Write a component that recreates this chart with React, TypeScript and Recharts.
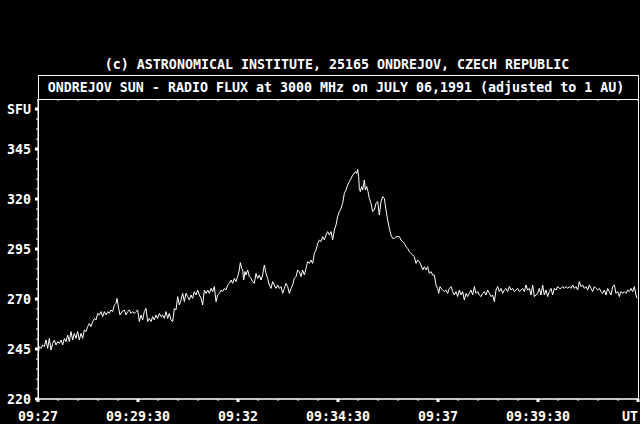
import { Line, LineChart, XAxis, YAxis } from "recharts"

const caption = "(c) ASTRONOMICAL INSTITUTE, 25165 ONDREJOV, CZECH REPUBLIC"
const title = "ONDREJOV SUN - RADIO FLUX at 3000 MHz on JULY 06,1991 (adjusted to 1 AU)"

// seconds after 09:27:00 UT
const xTicks = [0, 150, 300, 450, 600, 750, 900]
const xTickLabels = ["09:27", "09:29:30", "09:32", "09:34:30", "09:37", "09:39:30", "UT"]
const yTicks = [220, 245, 270, 295, 320, 345]
const yUnit = "SFU"

const seconds = [
  0, 2, 4.5, 7, 9.5, 12, 14.5, 17, 19.5, 22, 24.5, 27, 29.5, 32, 34.5, 37, 39.5, 42, 44.5, 47,
  49.5, 52, 54.5, 57, 59.5, 62, 64.5, 67, 69.5, 72, 74.5, 77, 79.5, 82, 84.5, 87, 89.5, 92, 94.5, 97,
  99.5, 102, 104.5, 107, 109.5, 112, 114.5, 117, 118.5, 121, 123, 126, 129.5, 132, 134.5, 137, 139.5, 142, 144.5, 147,
  149.5, 152, 154.5, 157, 159.5, 162, 164.5, 167, 169.5, 172, 174.5, 177, 179.5, 182, 184.5, 187, 189.5, 192, 194.5, 197,
  199.5, 202, 204.5, 207, 209.5, 212, 214.5, 217, 219.5, 222, 224.5, 227, 229.5, 232, 234.5, 237, 239.5, 242, 244.5, 247,
  249.5, 252, 254.5, 257, 259.5, 262, 264.5, 267, 269.5, 272, 274.5, 277, 279.5, 282, 284.5, 287, 289.5, 292, 294.5, 297,
  299.5, 302, 303.5, 305.5, 307, 308.5, 310.5, 312, 314.5, 317, 319.5, 322, 324.5, 327, 329.5, 332, 334.5, 337, 339.5, 342,
  344.5, 347, 349.5, 352, 354.5, 357, 359.5, 362, 364.5, 367, 369.5, 372, 374.5, 377, 379.5, 382, 384.5, 387, 389.5, 392,
  394.5, 397, 399.5, 402, 404.5, 407, 409.5, 412, 414.5, 417, 419.5, 422, 424.5, 427, 429.5, 432, 434.5, 437, 439.5, 442,
  444.5, 447, 449.5, 452, 454.5, 457, 459.5, 462, 464.5, 467, 469.5, 472, 474.5, 476, 478, 479.5, 481, 482, 483.5, 485.5,
  487, 489.5, 491, 493, 495, 497, 499.5, 502, 504.5, 507, 509.5, 512, 514.5, 517, 519.5, 522, 524.5, 527, 529.5, 532,
  534.5, 537, 539.5, 542, 544.5, 547, 549.5, 552, 554.5, 557, 559.5, 562, 564.5, 567, 569.5, 572, 574.5, 577, 579.5, 582,
  584.5, 587, 589.5, 592, 594.5, 597, 599.5, 601, 603, 604.5, 607, 609.5, 612, 614.5, 617, 619.5, 622, 624.5, 627, 629.5,
  632, 634.5, 637, 639.5, 642, 644.5, 647, 649.5, 652, 654.5, 657, 659.5, 662, 664.5, 667, 669.5, 672, 674.5, 677, 679.5,
  682, 684.5, 687, 689.5, 692, 694.5, 697, 699.5, 702, 704.5, 707, 709.5, 712, 714.5, 717, 719.5, 722, 724.5, 727, 729.5,
  732, 734.5, 737, 739.5, 742, 744.5, 749.5, 752, 754.5, 757, 759.5, 762, 764.5, 767, 769.5, 772, 774.5, 777, 779.5, 782,
  784.5, 787, 789.5, 792, 794.5, 797, 799.5, 802, 804.5, 807, 809.5, 812, 814.5, 817, 819.5, 822, 824.5, 827, 829.5, 832,
  834.5, 837, 839.5, 842, 844.5, 847, 849.5, 852, 854.5, 857, 859.5, 862, 864.5, 867, 869.5, 872, 874.5, 877, 879.5, 882,
  884.5, 887, 889.5, 892, 894.5, 897, 898.5,
]

const sfu = [
  241.5, 246.2, 245.3, 247, 246.2, 249.5, 245.3, 250.3, 244.5, 247.8, 249.5, 247, 248.7, 247.8, 249.5, 247, 250.3, 248.7, 252, 248.7,
  253.7, 249.5, 252.8, 250.3, 253.7, 249.5, 252.8, 250.3, 254.5, 253.7, 256.2, 257.8, 256.2, 258.7, 260.3, 259.5, 262.8, 262, 263.7, 261.2,
  263.7, 262, 263.7, 262.8, 264.5, 263.7, 267, 267.8, 270.3, 265.3, 262, 263.7, 264.5, 262, 263.7, 264.5, 262.8, 263.7, 262.8, 263.7,
  264.5, 258.7, 262, 259.5, 263.7, 265.3, 258.7, 260.3, 258.7, 261.2, 259.5, 262, 260.3, 262.8, 261.2, 262, 260.3, 263.7, 260.3, 262.8,
  259.5, 258.7, 265.3, 264.5, 271.2, 267, 269.5, 272.8, 268.7, 272.8, 271.2, 269.5, 272, 270.3, 273.7, 272, 274.5, 272, 270.3, 267,
  274.5, 272.8, 274.5, 272.8, 275.3, 273.7, 276.2, 268.7, 272, 272.8, 274.5, 273.7, 275.3, 274.5, 277, 277.8, 279.5, 277.8, 280.3, 278.7,
  281.2, 284.5, 288.2, 285.3, 284.5, 279.5, 283.7, 282, 284.5, 281.2, 280.3, 278.7, 277.8, 282.8, 280.3, 282, 279.5, 282, 287, 282.8,
  280.3, 277, 275.3, 278.7, 277, 275.3, 277, 275.3, 276.2, 272.8, 275.3, 277.8, 276.2, 272.8, 275.3, 277, 280.3, 281.2, 284.5, 283.7,
  281.2, 284.5, 282, 285.3, 288.7, 287.8, 289.5, 287.8, 292.8, 294.5, 297.8, 299.5, 298.7, 301.2, 299.5, 302, 303.7, 302, 303.7, 299.5,
  304.5, 307, 311.2, 313.7, 315.3, 317.8, 322.8, 324.5, 327, 328.7, 330.3, 332, 332.8, 333.7, 332.8, 334.8, 331.2, 325.3, 323.7, 326.2,
  324.5, 329.5, 324.5, 326.2, 323.7, 320.3, 317.8, 313.7, 314.5, 317.8, 318.7, 312, 318.7, 321.2, 320.3, 314.5, 309.5, 305.3, 302, 300.3,
  300.3, 301.2, 301.2, 301.2, 299.5, 298.7, 297.8, 296.2, 295.3, 293.7, 292.8, 292, 291.2, 287.8, 289.5, 288.7, 287, 284.5, 286.2, 284.5,
  286.2, 282.8, 283.7, 282, 282, 277, 275.3, 272.8, 276.2, 275.3, 274.5, 273.7, 274.5, 272.8, 275.3, 276.2, 273.7, 272, 273.7, 271.2,
  274.5, 272, 273.7, 269.5, 272.8, 271.2, 272.8, 274.5, 272, 276.2, 272.8, 273.7, 272, 271.2, 272.8, 273.7, 272, 274.5, 272.8, 271.2,
  272, 268.7, 274.5, 276.2, 273.7, 275.3, 272.8, 274.5, 275.3, 273.7, 276.2, 274.5, 275.3, 273.7, 274.5, 275.3, 273.7, 274.5, 275.3, 273.7,
  277, 274.5, 275.3, 272, 277, 271.2, 272.8, 275.3, 272, 277, 272, 274.5, 271.2, 273.7, 275.3, 272, 275.3, 274.5, 276.2, 275.3,
  275.3, 276.2, 275.3, 276.2, 275.3, 276.2, 275.3, 277, 275.3, 276.2, 274.5, 278.7, 276.2, 277, 275.3, 276.2, 274.5, 277, 275.3, 273.7,
  276.2, 275.3, 274.5, 275.3, 273.7, 272.8, 274.5, 272, 275.3, 273.7, 272, 276.2, 277, 272.8, 273.7, 271.2, 273.7, 272.8, 273.7, 272.8,
  274.5, 273.7, 275.3, 273.7, 276.2, 272, 270.3,
]

const data = seconds.map((t, i) => ({ t, v: sfu[i] }))

// minor tick positions (every 30 s, every 5 SFU)
const minorX = Array.from({ length: 31 }, (_, i) => i * 30)
const minorY = Array.from({ length: 30 }, (_, i) => 220 + i * 5)

const PLOT_TOP = 99

const FONT = "'DejaVu Sans Mono', 'Liberation Mono', monospace"
const textStyle = { fill: "#fff", fontSize: 13.3, fontFamily: FONT, fontWeight: 700 }

const XTick = (props: any) => {
  const { x, y, payload } = props
  const i = xTicks.indexOf(payload.value)
  const major = i >= 0
  const last = i === xTicks.length - 1
  return (
    <g>
      <line x1={x} x2={x} y1={PLOT_TOP} y2={PLOT_TOP + 2} stroke="#fff" />
      {major ? (
        <>
          <rect x={x - 1.5} y={y} width={3} height={3} fill="#fff" />
          <text x={x} y={y + 13} dy="0.71em" textAnchor={last ? "end" : "middle"} {...textStyle}>
            {xTickLabels[i]}
          </text>
        </>
      ) : (
        <line x1={x} x2={x} y1={y} y2={y + 2} stroke="#fff" />
      )}
    </g>
  )
}

const YTick = (props: any) => {
  const { x, y, payload } = props
  const v = payload.value
  const major = yTicks.includes(v) || v === 365
  return (
    <g>
      {major ? (
        <>
          <rect x={x - 3} y={y - 1.5} width={3} height={3} fill="#fff" />
          <text x={x - 7} y={y} dy="0.355em" textAnchor="end" {...textStyle}>
            {v === 365 ? yUnit : String(v)}
          </text>
        </>
      ) : (
        <line x1={x - 2} x2={x} y1={y} y2={y} stroke="#fff" />
      )}
    </g>
  )
}

export default function App() {
  return (
    <div style={{ position: "absolute", left: 0, top: 0, width: 640, height: 424, background: "#000" }}>
      <LineChart width={640} height={424} data={data} margin={{ top: PLOT_TOP, right: 2, bottom: 0, left: 0 }}>
        <XAxis
          dataKey="t"
          type="number"
          domain={[0, 900]}
          ticks={minorX}
          height={25}
          interval={0}
          tickSize={0}
          tickMargin={0}
          axisLine={{ stroke: "#fff" }}
          tickLine={false}
          tick={<XTick />}
        />
        <YAxis
          type="number"
          domain={[220, 370]}
          ticks={minorY}
          width={38}
          interval={0}
          tickSize={0}
          tickMargin={0}
          axisLine={{ stroke: "#fff" }}
          tickLine={false}
          tick={<YTick />}
        />
        <Line
          dataKey="v"
          type="linear"
          stroke="#fff"
          strokeWidth={1}
          dot={false}
          isAnimationActive={false}
        />
      </LineChart>
      <svg width={640} height={424} style={{ position: "absolute", left: 0, top: 0, pointerEvents: "none" }}>
        <text x={337} y={68.5} textAnchor="middle" {...textStyle}>
          {caption}
        </text>
        <rect x={38.5} y={75.5} width={600} height={323.5} fill="none" stroke="#fff" />
        <line x1={38.5} x2={638.5} y1={99.5} y2={99.5} stroke="#fff" />
        <text x={336} y={91.5} textAnchor="middle" {...textStyle}>
          {title}
        </text>
      </svg>
    </div>
  )
}
